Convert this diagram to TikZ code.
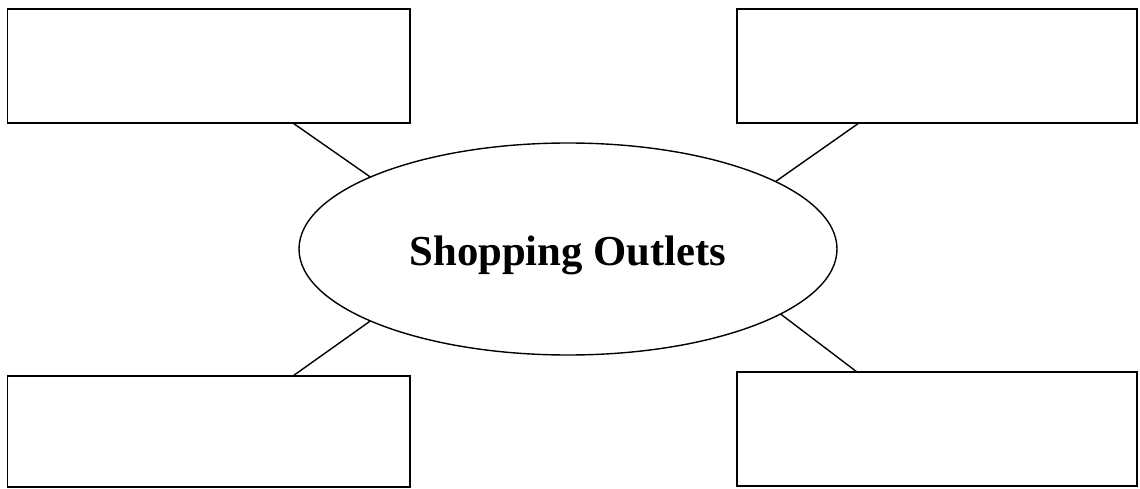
\documentclass[tikz,border=0pt]{standalone}
\usepackage{fontspec}
\setmainfont{Liberation Serif}
\usetikzlibrary{shapes.geometric,calc}
\tikzset{
  box/.style={draw=black, line width=1.5pt, rectangle, inner sep=0pt, outer sep=0pt},
  hub/.style={draw=black, line width=1.4pt, ellipse, inner sep=0pt, outer sep=0pt,
              minimum width=538pt, minimum height=212pt},
  title/.style={inner sep=0pt, font=\fontsize{42.7}{50}\selectfont\bfseries},
  link/.style={draw=black, line width=1.4pt}
}
\begin{document}
\begin{tikzpicture}[x=1pt,y=1pt]
\useasboundingbox (0,0) rectangle (1140,488);
\node[box, minimum width=402.5pt, minimum height=114pt] (tl) at (208.75,422) {};
\node[box, minimum width=400pt, minimum height=114pt] (tr) at (937,422) {};
\node[box, minimum width=402.5pt, minimum height=111pt] (bl) at (208.75,56.5) {};
\node[box, minimum width=400pt, minimum height=114pt] (br) at (937,59) {};
\node[hub] (e) at (568,239) {};
\node[title] (t) at ([yshift=-6pt]e.center) {Shopping Outlets};
\draw[link] ($(tl.south west)!0.709!(tl.south east)$) -- (e.160.7);
\draw[link] ($(tr.south west)!0.305!(tr.south east)$) -- (e.18.7);
\draw[link] ($(bl.north west)!0.709!(bl.north east)$) -- (e.200.9);
\draw[link] ($(br.north west)!0.30!(br.north east)$) -- (e.343);
\end{tikzpicture}
\end{document}
